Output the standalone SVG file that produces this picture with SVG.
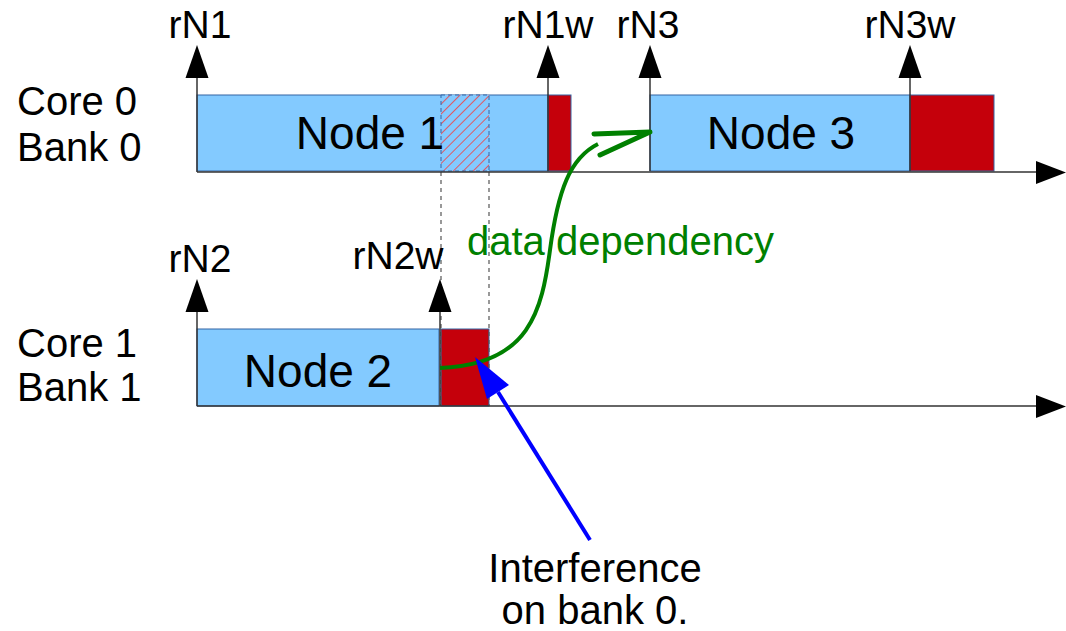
<svg xmlns="http://www.w3.org/2000/svg" width="1066" height="631" viewBox="0 0 1066 631">
<style>
text{font-family:"Liberation Sans",Arial,sans-serif;fill:#000}
.lbl{font-size:40px}
.node{font-size:46px;text-anchor:middle}
.rn{font-size:39px;text-anchor:middle}
.box{fill:#83caff;stroke:#3465a4;stroke-width:1}
.red{fill:#c5000b;stroke:#3465a4;stroke-width:1}
.axis{stroke:#333;stroke-width:1.5;fill:none}
.up{stroke:#333;stroke-width:1.5}
.dash{stroke:#555;stroke-width:1.2;stroke-dasharray:4,4;fill:none}
</style>
<defs>
<pattern id="hatch" patternUnits="userSpaceOnUse" width="7" height="7" patternTransform="rotate(45)">
<rect width="7" height="7" fill="#83caff"/>
<line x1="0" y1="0" x2="0" y2="7" stroke="#ff3030" stroke-width="1.5"/>
</pattern>
<polygon id="upHead" points="-11.5,0 0,-33 11.5,0" fill="#000"/>
</defs>

<g id="labels">
<text class="lbl" x="17" y="115">Core 0</text>
<text class="lbl" x="17" y="161">Bank 0</text>
<text class="lbl" x="17" y="357">Core 1</text>
<text class="lbl" x="17" y="401">Bank 1</text>
</g>

<g id="node1">
<rect class="box" x="197" y="95" width="351" height="76"/>
<rect x="441" y="95" width="48" height="76" fill="url(#hatch)" stroke="#3465a4" stroke-width="1" stroke-dasharray="4,3"/>
<rect class="red" x="548" y="95" width="23" height="76"/>
<text class="node" x="370" y="149">Node 1</text>
</g>

<g id="node3">
<rect class="box" x="650" y="95" width="260" height="76"/>
<rect class="red" x="910" y="95" width="84" height="76"/>
<text class="node" x="781" y="149">Node 3</text>
</g>

<g id="node2">
<rect class="box" x="197" y="329" width="242" height="77"/>
<rect class="red" x="441" y="329" width="48" height="77"/>
<text class="node" x="318" y="387">Node 2</text>
</g>

<g id="connectors">
<line class="dash" x1="441" y1="172" x2="441" y2="406"/>
<line class="dash" x1="489" y1="172" x2="489" y2="406"/>
<line class="axis" x1="197" y1="172" x2="1040" y2="172"/>
<polygon points="1036,161 1066,172.5 1036,184" fill="#000"/>
<line class="axis" x1="197" y1="406" x2="1040" y2="406"/>
<polygon points="1036,395 1066,406.5 1036,418" fill="#000"/>
<line class="up" x1="197" y1="172" x2="197" y2="76"/>
<use href="#upHead" x="197" y="78"/>
<line class="up" x1="548" y1="171" x2="548" y2="76"/>
<use href="#upHead" x="548" y="78"/>
<line class="up" x1="650" y1="171" x2="650" y2="76"/>
<use href="#upHead" x="650" y="78"/>
<line class="up" x1="910" y1="171" x2="910" y2="76"/>
<use href="#upHead" x="910" y="78"/>
<line class="up" x1="197" y1="406" x2="197" y2="310"/>
<use href="#upHead" x="197" y="312"/>
<line class="up" x1="440" y1="406" x2="440" y2="310"/>
<use href="#upHead" x="440" y="312"/>
<path d="M440,368 C530,365 542,310 550,250 C558,190 570,158 598,144" fill="none" stroke="#008000" stroke-width="4"/>
<path d="M594,134 L650,132 L600,155" fill="none" stroke="#008000" stroke-width="5" stroke-linecap="round" stroke-linejoin="round"/>
<line x1="590" y1="540" x2="498" y2="392" stroke="#0000ff" stroke-width="4"/>
<polygon points="475,357 509,385 487,399" fill="#0000ff"/>
</g>

<g id="texts">
<text class="rn" x="200" y="38">rN1</text>
<text class="rn" x="548" y="38">rN1w</text>
<text class="rn" x="648" y="38">rN3</text>
<text class="rn" x="910" y="38">rN3w</text>
<text class="rn" x="200" y="272">rN2</text>
<text class="rn" x="398" y="269">rN2w</text>
<text x="467" y="255" style="font-size:40px;fill:#008000">data dependency</text>
<text class="lbl" x="595" y="582" text-anchor="middle">Interference</text>
<text class="lbl" x="595" y="624" text-anchor="middle">on bank 0.</text>
</g>
</svg>
